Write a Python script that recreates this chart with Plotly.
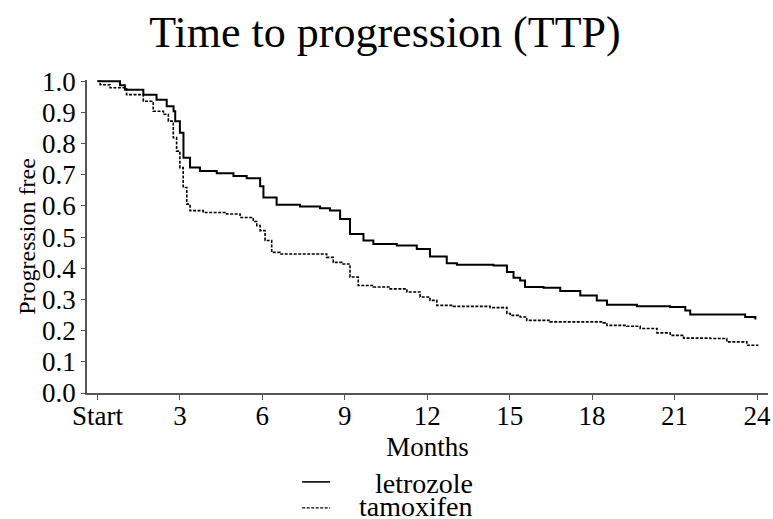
import plotly.graph_objects as go

# Months and progression-free proportion
letrozole_months = [0, 0.82, 1.0, 1.67, 2.15, 2.52, 2.77, 2.83, 3.0, 3.13, 3.37, 3.73, 4.34, 4.95,
                    5.43, 5.92, 6.04, 6.52, 7.37, 8.1, 8.46, 8.83, 9.19, 9.68, 10.04, 10.89, 11.62,
                    12.1, 12.71, 13.08, 14.41, 14.9, 15.14, 15.38, 15.56, 16.23, 16.84, 17.57, 18.17,
                    18.54, 19.63, 20.84, 21.39, 21.57, 23.51, 23.57, 23.94]
letrozole_surv = [1.0, 0.987, 0.973, 0.957, 0.941, 0.920, 0.904, 0.872, 0.835, 0.755, 0.723, 0.712,
                  0.705, 0.696, 0.689, 0.663, 0.627, 0.604, 0.598, 0.593, 0.585, 0.558, 0.510, 0.489,
                  0.478, 0.473, 0.462, 0.438, 0.416, 0.411, 0.409, 0.388, 0.370, 0.361, 0.340, 0.338,
                  0.327, 0.313, 0.297, 0.283, 0.278, 0.276, 0.265, 0.252, 0.252, 0.244, 0.236]

tamoxifen_months = [0, 0.1, 0.46, 1.06, 1.67, 2.03, 2.4, 2.58, 2.76, 2.88, 3.0, 3.12, 3.25, 3.37,
                    3.85, 4.7, 5.19, 5.67, 5.8, 5.92, 6.1, 6.34, 6.64, 8.34, 8.58, 8.89, 9.19, 9.49,
                    10.04, 10.65, 11.26, 11.74, 12.1, 12.35, 12.95, 14.29, 14.9, 15.02, 15.38, 15.62,
                    16.47, 18.41, 18.54, 19.26, 19.75, 20.36, 20.84, 21.33, 22.3, 22.9, 23.63, 24.05]
tamoxifen_surv = [1.0, 0.989, 0.979, 0.957, 0.936, 0.904, 0.894, 0.872, 0.819, 0.776, 0.723, 0.659,
                  0.606, 0.585, 0.579, 0.574, 0.563, 0.550, 0.537, 0.521, 0.489, 0.451, 0.446, 0.435,
                  0.419, 0.414, 0.372, 0.345, 0.340, 0.334, 0.324, 0.308, 0.297, 0.281, 0.278, 0.274,
                  0.255, 0.249, 0.244, 0.233, 0.228, 0.225, 0.217, 0.214, 0.207, 0.193, 0.185, 0.176,
                  0.175, 0.164, 0.153, 0.153]

x_tick_vals = [0, 3, 6, 9, 12, 15, 18, 21, 24]
x_tick_text = ["Start", "3", "6", "9", "12", "15", "18", "21", "24"]
y_tick_vals = [0.0, 0.1, 0.2, 0.3, 0.4, 0.5, 0.6, 0.7, 0.8, 0.9, 1.0]
series_names = ["letrozole", "tamoxifen"]

FONT = "Liberation Serif"
DASH = "3px,1.5px"

fig = go.Figure()
fig.add_trace(go.Scatter(x=letrozole_months, y=letrozole_surv, mode="lines",
                         line=dict(color="black", width=2, shape="hv"),
                         name=series_names[0], showlegend=False))
fig.add_trace(go.Scatter(x=tamoxifen_months, y=tamoxifen_surv, mode="lines",
                         line=dict(color="black", width=1.6, shape="hv", dash=DASH),
                         name=series_names[1], showlegend=False))

# manual legend (text right-aligned like the reference)
legend_rows = [(-0.284, -0.289, "solid", 1.6), (-0.367, -0.362, DASH, 1.4)]
for i, (yline, ytext, dash, w) in enumerate(legend_rows):
    fig.add_shape(type="line", xref="paper", yref="paper",
                  x0=0.316, x1=0.357, y0=yline, y1=yline,
                  line=dict(color="black", width=w, dash=dash))
    fig.add_annotation(xref="paper", yref="paper", x=0.570, y=ytext,
                       text=series_names[i], showarrow=False,
                       xanchor="right", yanchor="middle",
                       font=dict(family=FONT, size=28, color="black"))

fig.update_layout(
    width=773, height=519,
    margin=dict(l=87, r=5, t=80, b=126, autoexpand=False),
    paper_bgcolor="white", plot_bgcolor="white",
    font=dict(family=FONT, color="black"),
    title=dict(text="Time to progression (TTP)", x=0.498, xanchor="center",
               y=0.94, yanchor="middle", font=dict(family=FONT, size=44, color="black")),
    xaxis=dict(range=[-0.38, 24.4], tickvals=x_tick_vals, ticktext=x_tick_text,
               automargin=False, ticklabelstandoff=-7,
               showgrid=False, zeroline=False, showline=True, linecolor="#555",
               linewidth=1.5, ticks="outside", ticklen=5, tickcolor="#555", tickwidth=1.2,
               tickfont=dict(family=FONT, size=27, color="black"),
               title=dict(text="Months", font=dict(family=FONT, size=27, color="black"),
                          standoff=7)),
    yaxis=dict(range=[0, 1.004], tickvals=y_tick_vals, tickformat=".1f",
               automargin=False,
               showgrid=False, zeroline=False, showline=True, linecolor="#555",
               linewidth=1.5, ticks="outside", ticklen=4, tickcolor="#555", tickwidth=1.2,
               tickfont=dict(family=FONT, size=27, color="black"),
               title=dict(text="Progression free", font=dict(family=FONT, size=24, color="black"),
                          standoff=0)),
)

fig.write_html("out.html", config={"displayModeBar": False},
               post_script="document.body.style.margin='0';")
